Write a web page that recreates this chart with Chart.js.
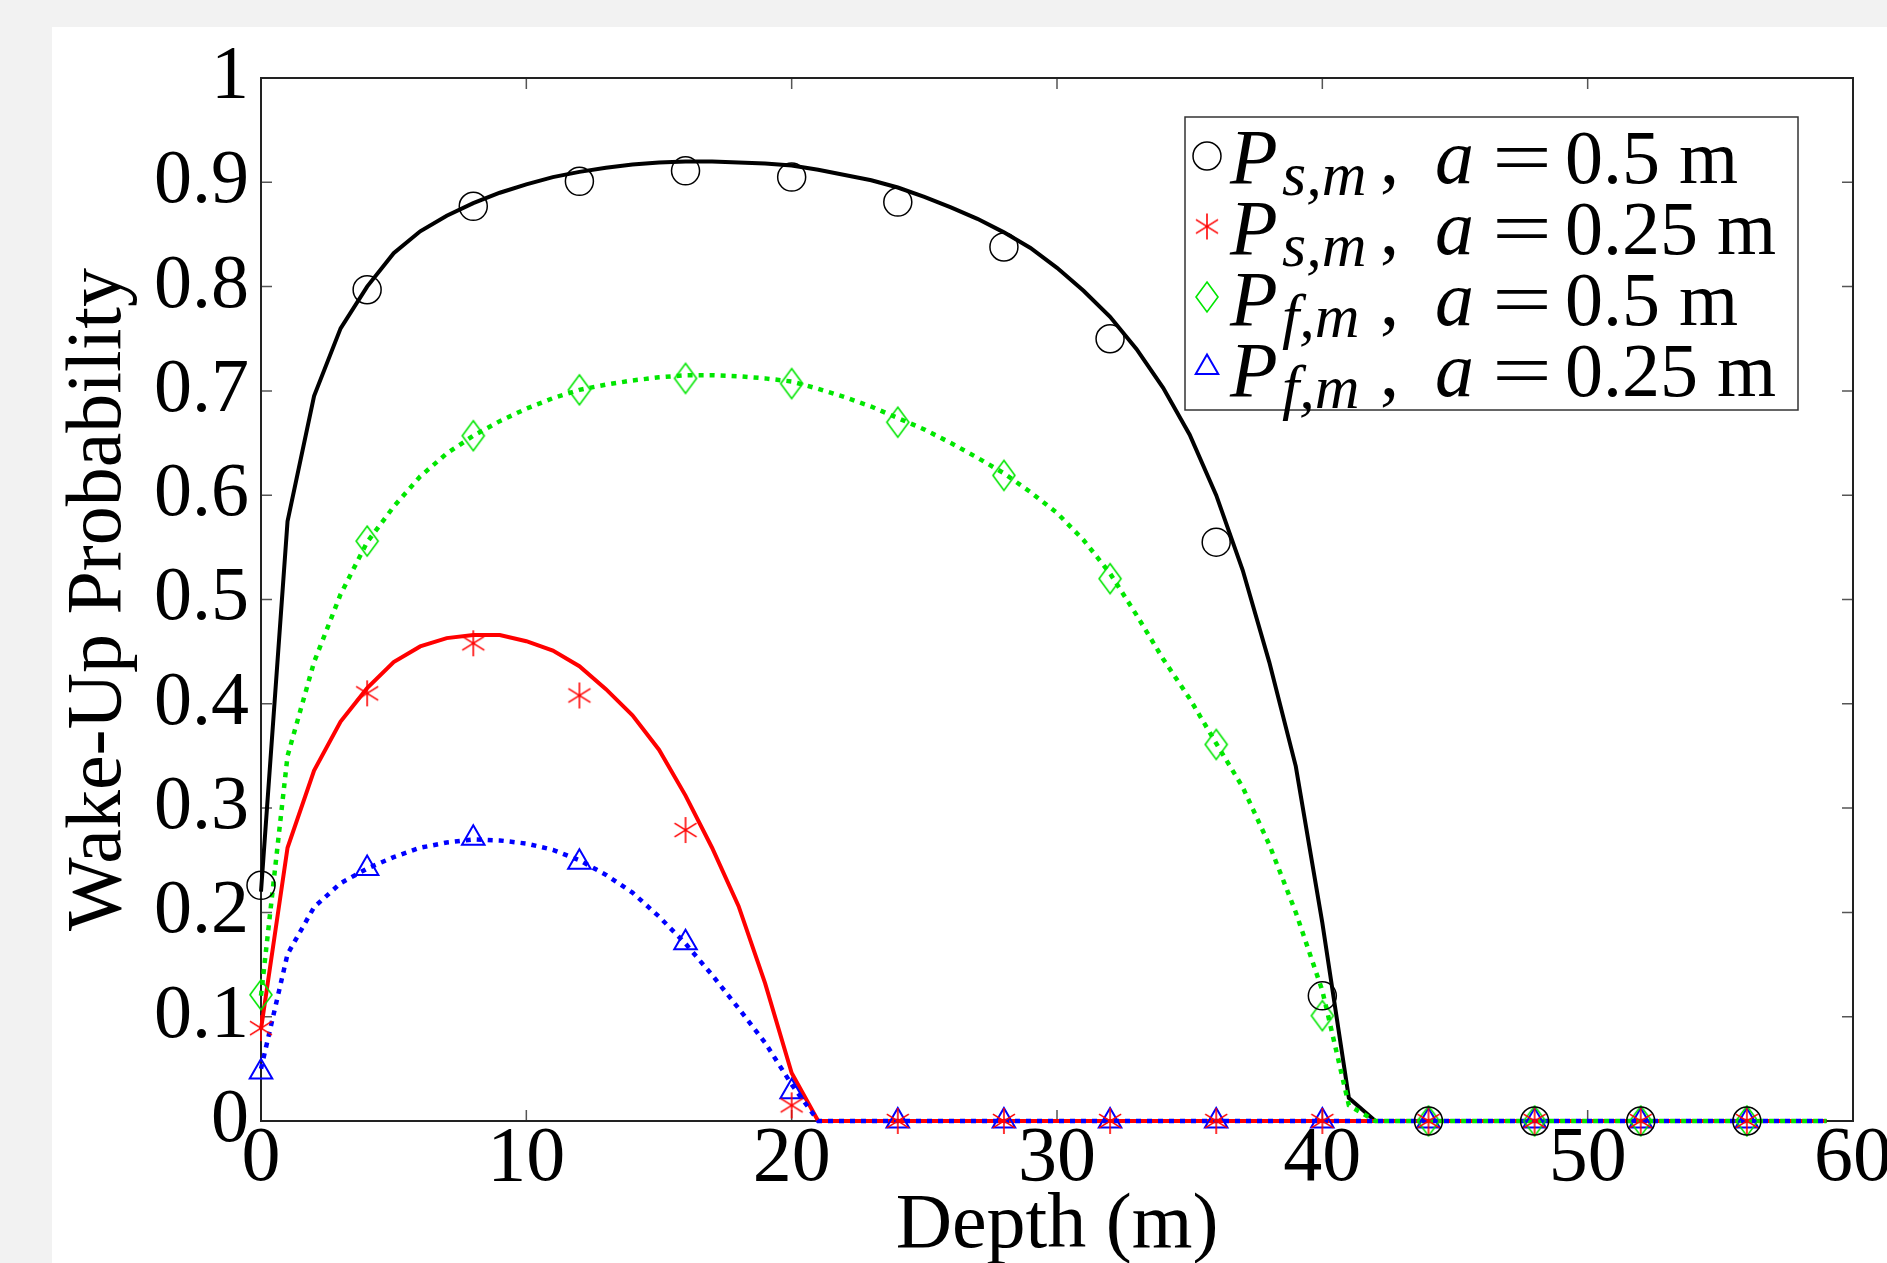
<!DOCTYPE html>
<html>
<head>
<meta charset="utf-8">
<script src="https://cdn.jsdelivr.net/npm/chart.js@4.4.1/dist/chart.umd.min.js"></script>
<style>
    html, body { margin: 0; padding: 0; overflow: hidden; background: #f2f2f2; }
    #panel { position: absolute; left: 52px; top: 27px; width: 1835px; height: 1280px; background: #fff; }
</style>
</head>
<body>
<div id="panel"><canvas id="graph" width="1835" height="1280"></canvas></div>
<script>
// depth grid of the theory curves (m)
const depth = [
    0, 1, 2, 3, 4, 5, 6, 7, 8, 9, 10, 11, 12, 13, 14, 15, 16, 17, 18, 19,
    20, 21, 22, 23, 24, 25, 26, 27, 28, 29, 30, 31, 32, 33, 34, 35, 36, 37, 38, 39,
    40, 41, 42, 43, 44, 45, 46, 47, 48, 49, 50, 51, 52, 53, 54, 55, 56, 57, 58, 59
]
// theory curves
const psTheory05 = [
    0.22, 0.575, 0.695, 0.76, 0.80, 0.832, 0.853, 0.868, 0.880, 0.890,
    0.898, 0.905, 0.910, 0.914, 0.917, 0.919, 0.920, 0.920, 0.919, 0.918,
    0.916, 0.912, 0.907, 0.902, 0.895, 0.886, 0.876, 0.865, 0.852, 0.837,
    0.818, 0.796, 0.771, 0.740, 0.703, 0.658, 0.600, 0.528, 0.44, 0.34,
    0.19, 0.022, 0, 0, 0, 0, 0, 0, 0, 0,
    0, 0, 0, 0, 0, 0, 0, 0, 0, 0
]
const psTheory025 = [
    0.088, 0.262, 0.336, 0.383, 0.415, 0.44, 0.455, 0.463, 0.466, 0.466,
    0.46, 0.451, 0.436, 0.414, 0.389, 0.356, 0.312, 0.262, 0.206, 0.132,
    0.046, 0, 0, 0, 0, 0, 0, 0, 0, 0,
    0, 0, 0, 0, 0, 0, 0, 0, 0, 0,
    0, 0, 0, 0, 0, 0, 0, 0, 0, 0,
    0, 0, 0, 0, 0, 0, 0, 0, 0, 0
]
const pfTheory05 = [
    0.12, 0.35, 0.44, 0.505, 0.555, 0.589, 0.618, 0.64, 0.657, 0.671,
    0.683, 0.693, 0.701, 0.706, 0.71, 0.713, 0.715, 0.715, 0.714, 0.712,
    0.709, 0.702, 0.694, 0.685, 0.674, 0.663, 0.65, 0.636, 0.621, 0.603,
    0.583, 0.557, 0.525, 0.485, 0.443, 0.405, 0.362, 0.32, 0.265, 0.2,
    0.125, 0.015, 0, 0, 0, 0, 0, 0, 0, 0,
    0, 0, 0, 0, 0, 0, 0, 0, 0, 0
]
const pfTheory025 = [
    0.05, 0.16, 0.205, 0.228, 0.242, 0.253, 0.262, 0.267, 0.27, 0.269,
    0.266, 0.26, 0.25, 0.236, 0.219, 0.196, 0.17, 0.14, 0.108, 0.075,
    0.035, 0, 0, 0, 0, 0, 0, 0, 0, 0,
    0, 0, 0, 0, 0, 0, 0, 0, 0, 0,
    0, 0, 0, 0, 0, 0, 0, 0, 0, 0,
    0, 0, 0, 0, 0, 0, 0, 0, 0, 0
]

// simulated points
const depthSim = [0, 4, 8, 12, 16, 20, 24, 28, 32, 36, 40, 44, 48, 52, 56]
const psSim05 = [0.226, 0.797, 0.877, 0.901, 0.911, 0.905, 0.881, 0.838, 0.750, 0.555, 0.120, 0, 0, 0, 0]
const psSim025 = [0.089, 0.410, 0.458, 0.408, 0.279, 0.015, 0, 0, 0, 0, 0, 0, 0, 0, 0]
const pfSim05 = [0.121, 0.556, 0.657, 0.701, 0.712, 0.707, 0.670, 0.619, 0.520, 0.361, 0.101, 0, 0, 0, 0]
const pfSim025 = [0.047, 0.242, 0.271, 0.248, 0.171, 0.028, 0, 0, 0, 0, 0, 0, 0, 0, 0]

const xTicks = [0, 10, 20, 30, 40, 50, 60]
const xTickLabels = ['0', '10', '20', '30', '40', '50', '60']
const yTicks = [0, 0.1, 0.2, 0.3, 0.4, 0.5, 0.6, 0.7, 0.8, 0.9, 1]
const yTickLabels = ['0', '0.1', '0.2', '0.3', '0.4', '0.5', '0.6', '0.7', '0.8', '0.9', '1']

const legendRows = [
    {sub: 's,m', size: '0.5'},
    {sub: 's,m', size: '0.25'},
    {sub: 'f,m', size: '0.5'},
    {sub: 'f,m', size: '0.25'},
]

const serif = '"Liberation Serif", "Times New Roman", serif'

function pts(xs, ys) {
    return xs.map((x, i) => ({x: x, y: ys[i]}))
}

// matlab style asterisk (6 arms)
function asterisk(color, r) {
    let c = document.createElement('canvas')
    c.width = c.height = 2 * r + 4
    let g = c.getContext('2d')
    g.strokeStyle = color
    g.lineWidth = 1.6
    g.translate(r + 2, r + 2)
    ;[90, 32, 148].forEach(d => {
        let t = d * Math.PI / 180
        g.beginPath()
        g.moveTo(-r * Math.cos(t), -r * Math.sin(t))
        g.lineTo(r * Math.cos(t), r * Math.sin(t))
        g.stroke()
    })
    return c
}

// tall diamond
function diamond(color, w, h) {
    let c = document.createElement('canvas')
    c.width = 2 * w + 4
    c.height = 2 * h + 4
    let g = c.getContext('2d')
    g.strokeStyle = color
    g.lineWidth = 1.6
    g.translate(w + 2, h + 2)
    g.beginPath()
    g.moveTo(0, -h)
    g.lineTo(w, 0)
    g.lineTo(0, h)
    g.lineTo(-w, 0)
    g.closePath()
    g.stroke()
    return c
}

const starMark = asterisk('rgb(255, 0, 0)', 13)
const diamondMark = diamond('rgb(0, 230, 0)', 11, 15)

const markStyles = [
    {pointStyle: 'circle', radius: 14, borderWidth: 1.5, color: '#000'},
    {pointStyle: starMark, radius: 13, borderWidth: 0, color: 'rgb(255, 0, 0)'},
    {pointStyle: diamondMark, radius: 15, borderWidth: 0, color: 'rgb(0, 230, 0)'},
    {pointStyle: 'triangle', radius: 13, borderWidth: 2, color: 'rgb(0, 0, 255)'},
]

const frame = {
    id: 'frame',
    beforeDatasetsDraw(chart) {
        let {ctx, chartArea: a, scales: {x, y}} = chart
        ctx.save()
        ctx.strokeStyle = '#555'
        ctx.lineWidth = 1.5
        ctx.beginPath()
        xTicks.forEach(v => {
            let px = x.getPixelForValue(v)
            ctx.moveTo(px, a.bottom); ctx.lineTo(px, a.bottom - 11)
            ctx.moveTo(px, a.top); ctx.lineTo(px, a.top + 11)
        })
        yTicks.forEach(v => {
            let py = y.getPixelForValue(v)
            ctx.moveTo(a.left, py); ctx.lineTo(a.left + 11, py)
            ctx.moveTo(a.right, py); ctx.lineTo(a.right - 11, py)
        })
        ctx.stroke()
        ctx.strokeStyle = '#222'
        ctx.lineWidth = 2
        ctx.strokeRect(a.left, a.top, a.right - a.left, a.bottom - a.top)
        ctx.restore()
    }
}

const mathLegend = {
    id: 'mathLegend',
    afterDraw(chart) {
        let {ctx, chartArea: a} = chart
        let x0 = a.right - 668, y0 = a.top + 39
        ctx.save()
        ctx.fillStyle = '#fff'
        ctx.fillRect(x0, y0, 613, 293)
        ctx.strokeStyle = '#333'
        ctx.lineWidth = 1.5
        ctx.strokeRect(x0, y0, 613, 293)
        legendRows.forEach((row, i) => {
            let m = markStyles[i]
            let my = y0 + 39 + i * 70.5
            ctx.strokeStyle = m.color
            ctx.fillStyle = 'rgba(0,0,0,0)'
            ctx.lineWidth = m.borderWidth
            Chart.helpers.drawPoint(ctx, {pointStyle: m.pointStyle, radius: m.radius, rotation: 0, borderWidth: m.borderWidth}, x0 + 22, my)
            let tx = x0 + 45
            let by = y0 + 66 + i * 71
            ctx.fillStyle = '#000'
            ctx.textBaseline = 'alphabetic'
            ctx.textAlign = 'left'
            ctx.font = 'italic 78px ' + serif
            ctx.fillText('P', tx, by)
            ctx.font = 'italic 62px ' + serif
            ctx.fillText(row.sub, tx + 52, by + 12)
            ctx.font = '76px ' + serif
            ctx.fillText(',', tx + 150, by)
            ctx.font = 'italic 78px ' + serif
            ctx.fillText('a', tx + 205, by)
            ctx.font = '76px ' + serif
            ctx.save()
            ctx.translate(tx + 262, by)
            ctx.scale(1.4, 1)
            ctx.fillText('=', 0, 0)
            ctx.restore()
            ctx.fillText(row.size, tx + 335, by)
            let nw = ctx.measureText(row.size).width
            ctx.fillText('m', tx + 335 + nw + 19, by)
        })
        ctx.restore()
    }
}

function lineSet(label, data, color, dash, order) {
    return {
        label: label,
        data: pts(depth, data),
        borderColor: color,
        backgroundColor: 'transparent',
        borderWidth: dash.length ? 4.5 : 4,
        borderDash: dash,
        pointRadius: 0,
        tension: 0,
        clip: false,
        order: order,
    }
}

function markSet(label, data, m) {
    return {
        label: label,
        data: pts(depthSim, data),
        showLine: false,
        borderColor: m.color,
        backgroundColor: 'transparent',
        pointStyle: m.pointStyle,
        pointRadius: m.radius,
        pointBorderWidth: m.borderWidth,
        pointBorderColor: m.color,
        pointBackgroundColor: 'transparent',
        clip: false,
        order: 0,
    }
}

let graph = document.getElementById('graph').getContext('2d')

new Chart(graph, {
    type: 'line',
    data: {
        datasets: [
            markSet('Ps,m a=0.5 m', psSim05, markStyles[0]),
            markSet('Ps,m a=0.25 m', psSim025, markStyles[1]),
            markSet('Pf,m a=0.5 m', pfSim05, markStyles[2]),
            markSet('Pf,m a=0.25 m', pfSim025, markStyles[3]),
            lineSet('theory Pf 0.25', pfTheory025, 'rgb(0, 0, 255)', [5, 6], 1),
            lineSet('theory Pf 0.5', pfTheory05, 'rgb(0, 230, 0)', [5, 6], 2),
            lineSet('theory Ps 0.25', psTheory025, 'rgb(255, 0, 0)', [], 3),
            lineSet('theory Ps 0.5', psTheory05, '#000', [], 4),
        ]
    },
    options: {
        responsive: false,
        animation: false,
        events: [],
        layout: {padding: {top: 51, right: 34, left: 0, bottom: 0}},
        plugins: {
            legend: {display: false},
            tooltip: {enabled: false},
        },
        scales: {
            x: {
                type: 'linear',
                min: 0,
                max: 60,
                grid: {display: false, drawTicks: false},
                border: {display: false},
                afterBuildTicks: s => { s.ticks = xTicks.map(v => ({value: v})) },
                afterFit: s => { s.height = 186; s.paddingLeft = 0; s.paddingRight = 0 },
                ticks: {
                    autoSkip: false,
                    maxRotation: 0,
                    padding: -8,
                    color: '#000',
                    font: {family: serif, size: 78},
                    callback: v => xTickLabels[xTicks.indexOf(v)],
                },
                title: {
                    display: true,
                    text: 'Depth (m)',
                    color: '#000',
                    font: {family: serif, size: 78, lineHeight: 1},
                    padding: {top: 0, bottom: 41},
                },
            },
            y: {
                min: 0,
                max: 1,
                grid: {display: false, drawTicks: false},
                border: {display: false},
                afterBuildTicks: s => { s.ticks = yTicks.map(v => ({value: v})) },
                afterFit: s => { s.width = 209; s.paddingTop = 0; s.paddingBottom = 0 },
                ticks: {
                    autoSkip: false,
                    padding: 12,
                    color: '#000',
                    font: {family: serif, size: 76},
                    callback: v => yTickLabels[yTicks.indexOf(v)],
                },
                title: {
                    display: true,
                    text: 'Wake-Up Probability',
                    color: '#000',
                    font: {family: serif, size: 78, lineHeight: 1},
                    padding: {top: 9, bottom: 0},
                },
            },
        },
    },
    plugins: [frame, mathLegend],
})
</script>
</body>
</html>
